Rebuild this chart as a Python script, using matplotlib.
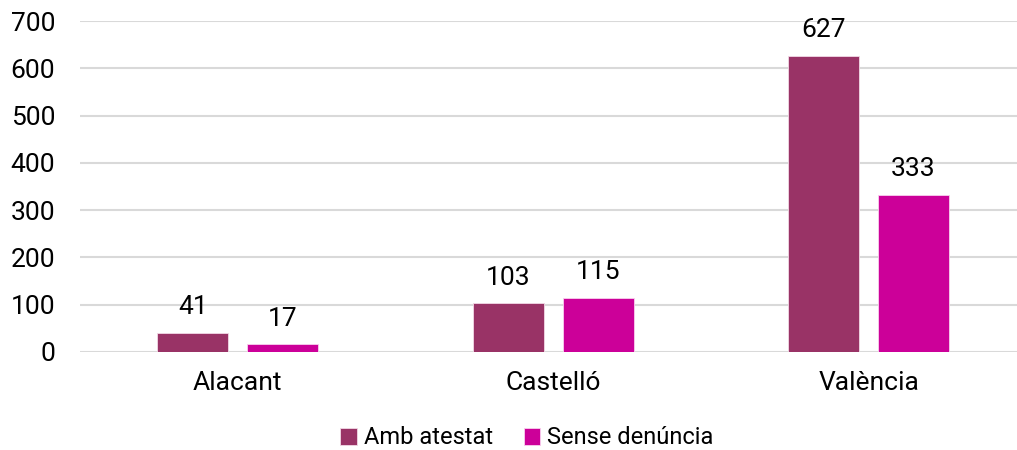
import matplotlib
matplotlib.use("Agg")
import matplotlib.pyplot as plt
import numpy as np

plt.rcParams['font.family'] = ['Roboto', 'DejaVu Sans']

# dades
categories = ['Alacant', 'Castelló', 'València']
amb_atestat = [41, 103, 627]
sense_denuncia = [17, 115, 333]
series_names = ['Amb atestat', 'Sense denúncia']
colors = ['#993366', '#CC0099']
yticks = [0, 100, 200, 300, 400, 500, 600, 700]

fig = plt.figure(figsize=(10.17, 4.5), dpi=100)
ax = fig.add_axes([0.0787, 0.2178, 0.9213, 0.7355])

x = np.arange(len(categories))
w = 0.225
off = 0.142

bars1 = ax.bar(x - off, amb_atestat, w, color=colors[0], edgecolor='#f2d9e6',
               linewidth=0.6, label=series_names[0], zorder=3)
bars2 = ax.bar(x + off, sense_denuncia, w, color=colors[1], edgecolor='#f9d0ee',
               linewidth=0.6, label=series_names[1], zorder=3)

# etiquetes de dades
for bars in (bars1, bars2):
    for b in bars:
        ax.annotate(str(int(b.get_height())),
                    (b.get_x() + b.get_width() / 2, b.get_height()),
                    xytext=(0, 9.5), textcoords='offset points',
                    ha='center', va='bottom', fontsize=19, color='#000000')

ax.set_xlim(-0.5, 2.47)
ax.set_ylim(0, 700)
ax.set_yticks(yticks)
ax.set_xticks(x)
ax.set_xticklabels(categories)
ax.tick_params(axis='y', length=0, pad=18, labelsize=19, colors='#000000')
ax.tick_params(axis='x', length=0, pad=14, labelsize=19, colors='#000000')
ax.grid(axis='y', color='#d9d9d9', linewidth=1.5, zorder=0)
for s in ax.spines.values():
    s.set_visible(False)

fig.legend(handles=[bars1, bars2], labels=series_names, loc='center',
           bbox_to_anchor=(527 / 1017, 1 - 438 / 450), ncol=2, frameon=False,
           fontsize=17, handlelength=0.7, handleheight=0.7, handletextpad=0.3,
           columnspacing=1.3)

fig.savefig('out.png', dpi=100)
